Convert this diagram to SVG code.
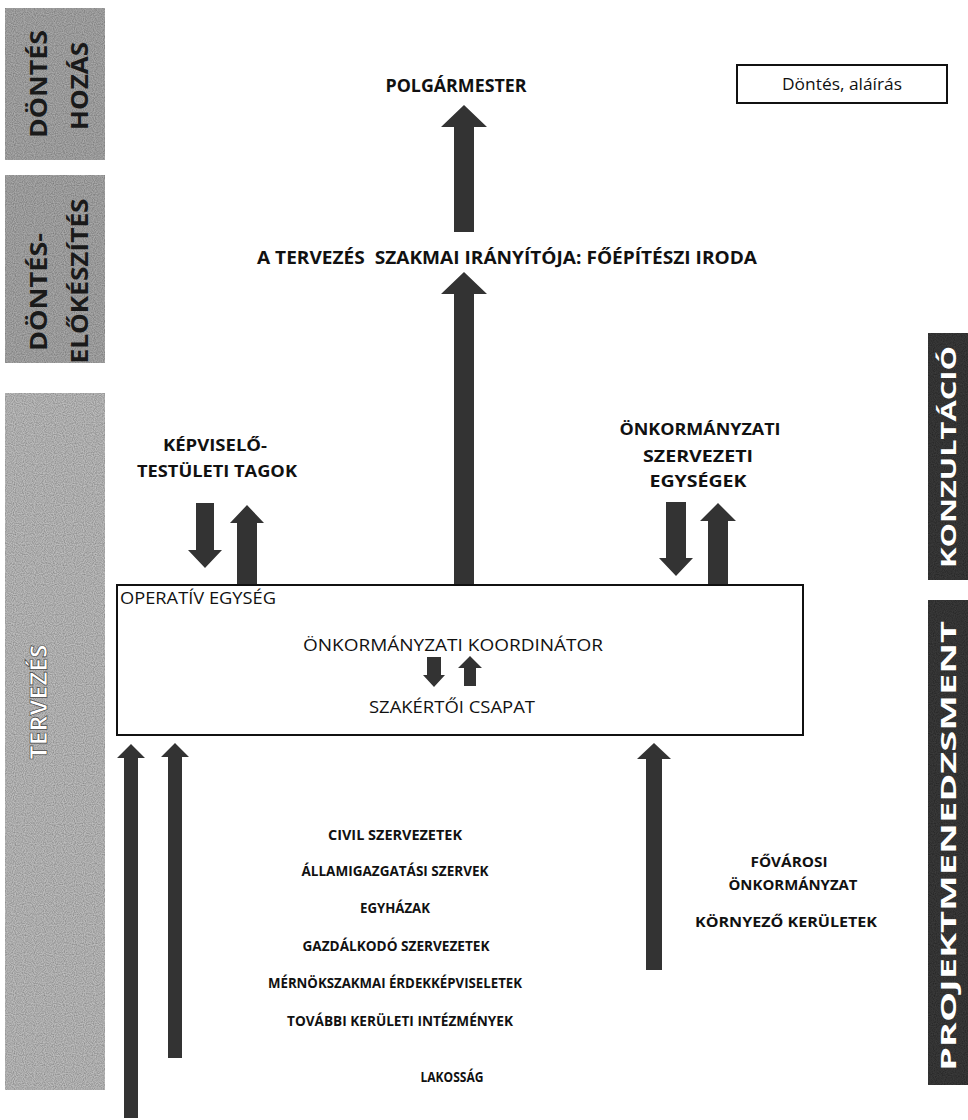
<svg xmlns="http://www.w3.org/2000/svg" width="968" height="1120" viewBox="0 0 968 1120">
<defs>
<filter id="grain" x="0" y="0" width="100%" height="100%">
<feTurbulence type="fractalNoise" baseFrequency="0.9" numOctaves="1" seed="3" result="n"/>
<feColorMatrix in="n" type="matrix" values="0 0 0 0 0  0 0 0 0 0  0 0 0 0 0  0 0 0 0.9 -0.25" result="a"/>
<feComposite in="a" in2="SourceGraphic" operator="in" result="d"/>
<feMerge><feMergeNode in="SourceGraphic"/><feMergeNode in="d"/></feMerge>
</filter>
<style>
.lband{fill:#a9a9a9}
.lband3{fill:#bdbdbd}
.rband{fill:#3a3a3a}
.btxt{font-family:"Open Sans","Liberation Sans",sans-serif;font-weight:bold;fill:#1a1a1a}
.wtxt{font-family:"Open Sans","Liberation Sans",sans-serif;font-weight:bold;fill:#ffffff}
.lbl{font-family:"Open Sans","Liberation Sans",sans-serif;font-weight:bold;fill:#111;text-anchor:middle}
.reg{font-family:"Open Sans","Liberation Sans",sans-serif;fill:#111}
.arr{fill:#333333}
</style>
</defs>

<g id="band-dontes-hozas">
<rect class="lband" x="5" y="8" width="100" height="152" filter="url(#grain)"/>
<text class="btxt" font-size="24" text-anchor="middle" textLength="108" lengthAdjust="spacingAndGlyphs" transform="translate(47,84) rotate(-90)">DÖNTÉS</text>
<text class="btxt" font-size="24" text-anchor="middle" textLength="88" lengthAdjust="spacingAndGlyphs" transform="translate(88,86) rotate(-90)">HOZÁS</text>
</g>

<g id="band-dontes-elokeszites">
<rect class="lband" x="5" y="175" width="100" height="188" filter="url(#grain)"/>
<text class="btxt" font-size="24" text-anchor="middle" textLength="118" lengthAdjust="spacingAndGlyphs" transform="translate(47,292) rotate(-90)">DÖNTÉS-</text>
<text class="btxt" font-size="24" text-anchor="middle" textLength="165" lengthAdjust="spacingAndGlyphs" transform="translate(88,281) rotate(-90)">ELŐKÉSZÍTÉS</text>
</g>

<g id="band-tervezes">
<rect class="lband3" x="5" y="393" width="100" height="697" filter="url(#grain)"/>
<text class="wtxt" font-size="24" text-anchor="middle" stroke="#444" stroke-width="0.7" textLength="115" lengthAdjust="spacingAndGlyphs" transform="translate(47,702) rotate(-90)">TERVEZÉS</text>
</g>

<g id="band-konzultacio">
<rect class="rband" x="928" y="333" width="40" height="247" filter="url(#grain)"/>
<text class="wtxt" font-size="21" text-anchor="middle" textLength="222" lengthAdjust="spacingAndGlyphs" transform="translate(956,457) rotate(-90)">KONZULTÁCIÓ</text>
</g>

<g id="band-projektmenedzsment">
<rect class="rband" x="928" y="600" width="40" height="485" filter="url(#grain)"/>
<text class="wtxt" font-size="21" text-anchor="middle" textLength="450" lengthAdjust="spacingAndGlyphs" transform="translate(956,846) rotate(-90)">PROJEKTMENEDZSMENT</text>
</g>

<g id="node-polgarmester">
<text class="lbl" x="456" y="92" font-size="18" textLength="141" lengthAdjust="spacingAndGlyphs">POLGÁRMESTER</text>
</g>

<g id="node-dontes-alairas">
<rect x="737" y="65" width="210" height="38" fill="#fff" stroke="#111" stroke-width="2"/>
<text class="reg" x="842" y="90" font-size="16" text-anchor="middle" textLength="120" lengthAdjust="spacingAndGlyphs">Döntés, aláírás</text>
</g>

<g id="node-foepiteszi">
<text class="lbl" x="507" y="264" font-size="17" textLength="500" lengthAdjust="spacingAndGlyphs" xml:space="preserve">A TERVEZÉS  SZAKMAI IRÁNYÍTÓJA: FŐÉPÍTÉSZI IRODA</text>
</g>

<g id="node-kepviselo">
<text class="lbl" x="215" y="451" font-size="16" textLength="104" lengthAdjust="spacingAndGlyphs">KÉPVISELŐ-</text>
<text class="lbl" x="217" y="477" font-size="16" textLength="160" lengthAdjust="spacingAndGlyphs">TESTÜLETI TAGOK</text>
</g>

<g id="node-onk-szerv">
<text class="lbl" x="700" y="435" font-size="16" textLength="161" lengthAdjust="spacingAndGlyphs">ÖNKORMÁNYZATI</text>
<text class="lbl" x="698" y="462" font-size="16" textLength="110" lengthAdjust="spacingAndGlyphs">SZERVEZETI</text>
<text class="lbl" x="698" y="487" font-size="16" textLength="97" lengthAdjust="spacingAndGlyphs">EGYSÉGEK</text>
</g>

<g id="node-operativ">
<rect x="117" y="585" width="686" height="150" fill="none" stroke="#111" stroke-width="2"/>
<text class="reg" x="120" y="604" font-size="16" textLength="156" lengthAdjust="spacingAndGlyphs">OPERATÍV EGYSÉG</text>
<text class="reg" x="453" y="651" font-size="16" text-anchor="middle" textLength="300" lengthAdjust="spacingAndGlyphs">ÖNKORMÁNYZATI KOORDINÁTOR</text>
<text class="reg" x="452" y="713" font-size="16" text-anchor="middle" textLength="166" lengthAdjust="spacingAndGlyphs">SZAKÉRTŐI CSAPAT</text>
</g>

<g id="node-list">
<text class="lbl" x="395" y="840" font-size="14" textLength="134" lengthAdjust="spacingAndGlyphs">CIVIL SZERVEZETEK</text>
<text class="lbl" x="395" y="876" font-size="14" textLength="187" lengthAdjust="spacingAndGlyphs">ÁLLAMIGAZGATÁSI SZERVEK</text>
<text class="lbl" x="395" y="913" font-size="14" textLength="70" lengthAdjust="spacingAndGlyphs">EGYHÁZAK</text>
<text class="lbl" x="396" y="951" font-size="14" textLength="187" lengthAdjust="spacingAndGlyphs">GAZDÁLKODÓ SZERVEZETEK</text>
<text class="lbl" x="395" y="988" font-size="14" textLength="254" lengthAdjust="spacingAndGlyphs">MÉRNÖKSZAKMAI ÉRDEKKÉPVISELETEK</text>
<text class="lbl" x="400" y="1026" font-size="14" textLength="226" lengthAdjust="spacingAndGlyphs">TOVÁBBI KERÜLETI INTÉZMÉNYEK</text>
</g>

<g id="node-lakossag">
<text class="lbl" x="452" y="1082" font-size="14" textLength="63" lengthAdjust="spacingAndGlyphs">LAKOSSÁG</text>
</g>

<g id="node-fovarosi">
<text class="lbl" x="789" y="867" font-size="14" textLength="77" lengthAdjust="spacingAndGlyphs">FŐVÁROSI</text>
<text class="lbl" x="793" y="890" font-size="14" textLength="129" lengthAdjust="spacingAndGlyphs">ÖNKORMÁNYZAT</text>
<text class="lbl" x="786" y="927" font-size="14" textLength="182" lengthAdjust="spacingAndGlyphs">KÖRNYEZŐ KERÜLETEK</text>
</g>

<g id="connectors" class="arr">
<path d="M464,105 L487,127 L474,127 L474,232 L454,232 L454,127 L441,127 Z"/>
<path d="M464,272 L487,294 L474,294 L474,584 L454,584 L454,294 L441,294 Z"/>
<path d="M205,568 L222,550 L214,550 L214,503 L196,503 L196,550 L188,550 Z"/>
<path d="M247,505 L264,523 L257,523 L257,584 L237,584 L237,523 L230,523 Z"/>
<path d="M676,576 L693,558 L686,558 L686,502 L666,502 L666,558 L659,558 Z"/>
<path d="M718,503 L736,521 L728,521 L728,584 L708,584 L708,521 L700,521 Z"/>
<path d="M434,687 L445,675 L441,675 L441,657 L427,657 L427,675 L423,675 Z"/>
<path d="M470,656 L482,668 L476,668 L476,686 L464,686 L464,668 L458,668 Z"/>
<path d="M131,744 L145,758 L138,758 L138,1118 L124,1118 L124,758 L117,758 Z"/>
<path d="M175,743 L189,757 L182,757 L182,1058 L168,1058 L168,757 L161,757 Z"/>
<path d="M654,743 L671,759 L662,759 L662,970 L646,970 L646,759 L637,759 Z"/>
</g>
</svg>
